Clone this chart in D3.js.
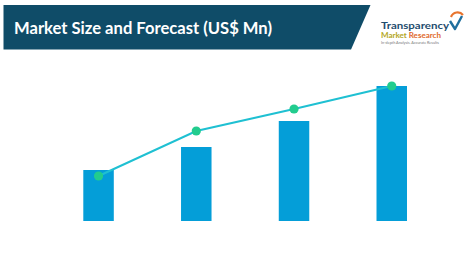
<!DOCTYPE html>
<html>
<head>
<meta charset="utf-8">
<script src="https://cdn.jsdelivr.net/npm/d3@7"></script>
<style>
  body { margin: 0; background: #fff; }
  svg { display: block; }
</style>
</head>
<body>
<div id="chart"></div>
<script>
// data (arbitrary units, US$ Mn not labelled)
const years = ["Y1", "Y2", "Y3", "Y4"];
const marketSize = [51, 74, 100, 135];
const forecast = [45, 90, 112, 135];

const W = 473, H = 270;
const svg = d3.select("#chart").append("svg")
  .attr("width", W).attr("height", H);

// header banner
svg.append("path")
  .attr("d", "M3.5,5 L370.5,5 L351,49.5 L3.5,49.5 Z")
  .attr("fill", "#0f4c68");

svg.append("text")
  .attr("x", 14).attr("y", 34)
  .attr("font-family", "Lato, 'Open Sans', sans-serif")
  .attr("font-weight", "bold")
  .attr("font-size", 17)
  .attr("textLength", 258)
  .attr("lengthAdjust", "spacingAndGlyphs")
  .attr("fill", "#fff")
  .text("Market Size and Forecast (US$ Mn)");

// logo
const logo = svg.append("g");
logo.append("text")
  .attr("x", 381).attr("y", 29)
  .attr("font-family", "Lato, sans-serif").attr("font-weight", "bold")
  .attr("font-size", 10).attr("textLength", 68).attr("lengthAdjust", "spacingAndGlyphs")
  .attr("fill", "#1f4d6e").text("Transparency");
const mr = logo.append("text")
  .attr("x", 381).attr("y", 38.3)
  .attr("font-family", "Lato, sans-serif").attr("font-weight", "bold")
  .attr("font-size", 7.2).attr("textLength", 60).attr("lengthAdjust", "spacingAndGlyphs");
mr.append("tspan").attr("fill", "#b3a624").text("Market ");
mr.append("tspan").attr("fill", "#e0692c").text("Research");
logo.append("text")
  .attr("x", 381).attr("y", 43.8)
  .attr("font-family", "Lato, sans-serif")
  .attr("font-size", 3.4).attr("textLength", 58).attr("lengthAdjust", "spacingAndGlyphs")
  .attr("fill", "#777").text("In-depth Analysis. Accurate Results");
logo.append("path")
  .attr("d", "M451,17 A7,7 0 0 1 463,15")
  .attr("fill", "none").attr("stroke", "#e8742e").attr("stroke-width", 2.2);
logo.append("path")
  .attr("d", "M450,21 L455,29 L462,16")
  .attr("fill", "none").attr("stroke", "#1f6f9e").attr("stroke-width", 2.4)
  .attr("stroke-linejoin", "round");

// scales
const x = d3.scaleBand().domain(years).range([83.3, 407])
  .paddingInner(0.688).paddingOuter(0);
const y = d3.scaleLinear().domain([0, 135]).range([221, 86]);

svg.append("g").selectAll("rect")
  .data(marketSize)
  .join("rect")
  .attr("x", (d, i) => x(years[i]))
  .attr("y", d => y(d))
  .attr("width", x.bandwidth())
  .attr("height", d => y(0) - y(d))
  .attr("fill", "#049ed8");

const cx = i => x(years[i]) + x.bandwidth() / 2;

svg.append("path")
  .datum(forecast)
  .attr("d", d3.line().x((d, i) => cx(i)).y(d => y(d)))
  .attr("fill", "none")
  .attr("stroke", "#1fc0d2")
  .attr("stroke-width", 2);

svg.append("g").selectAll("circle")
  .data(forecast)
  .join("circle")
  .attr("cx", (d, i) => cx(i))
  .attr("cy", d => y(d))
  .attr("r", 4.6)
  .attr("fill", "#22cc8e");
</script>
</body>
</html>
